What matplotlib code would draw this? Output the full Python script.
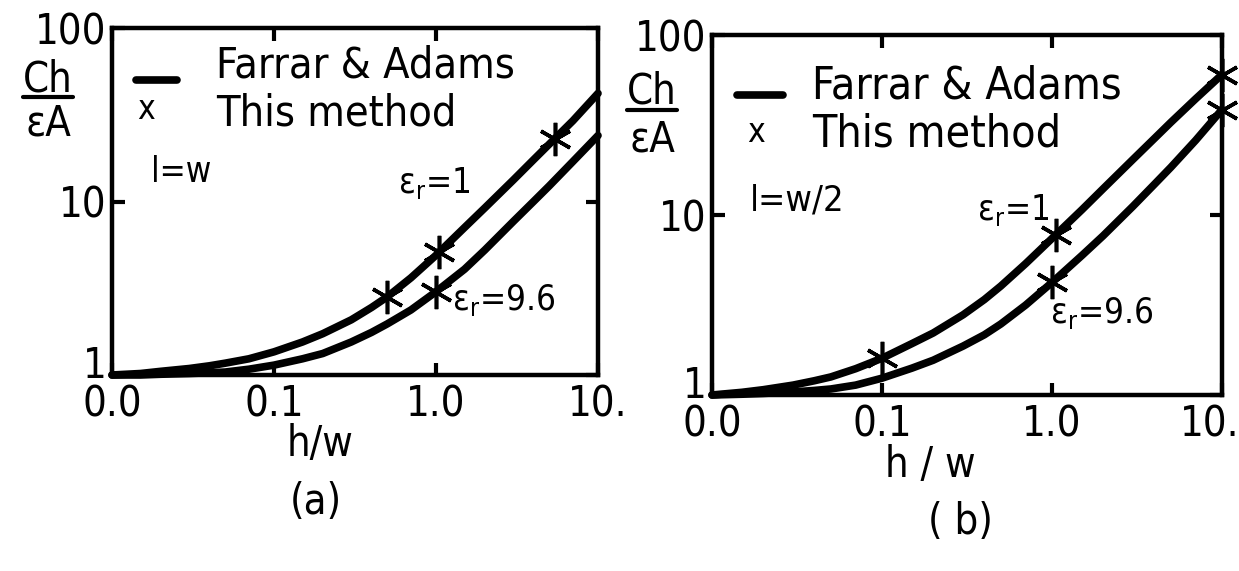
import matplotlib
matplotlib.use("Agg")
import matplotlib.pyplot as plt
from matplotlib.lines import Line2D
from matplotlib.transforms import ScaledTranslation

plt.rcParams["font.family"] = ["DejaVu Sans"]
plt.rcParams["font.stretch"] = "condensed"
plt.rcParams["mathtext.default"] = "regular"

# h/w sample points and normalised capacitance read for each curve
hw = [0.01, 0.015, 0.02, 0.03, 0.04, 0.05, 0.07, 0.1, 0.15, 0.2, 0.3,
      0.4, 0.5, 0.7, 1.0, 1.5, 2.0, 3.0, 4.0, 5.0, 7.0, 10.0]

# (a) l = w
a_er1 = [1.0, 1.02, 1.05, 1.09, 1.13, 1.17, 1.24, 1.36, 1.55, 1.73, 2.08,
         2.45, 2.82, 3.63, 4.9, 7.08, 9.18, 13.3, 17.4, 21.4, 29.2, 42.0]
a_er96 = [1.0, 1.0, 1.01, 1.02, 1.03, 1.04, 1.08, 1.14, 1.24, 1.33, 1.55,
          1.76, 1.97, 2.37, 3.02, 4.07, 5.25, 7.67, 10.0, 12.3, 17.0, 24.0]
a_pts_er1_x = [0.5, 1.05, 5.4]
a_pts_er1_y = [2.82, 5.1, 22.9]
a_pts_er96_x = [1.0]
a_pts_er96_y = [3.02]

# (b) l = w/2
b_er1 = [1.0, 1.035, 1.07, 1.135, 1.2, 1.26, 1.4, 1.6, 1.93, 2.21, 2.79,
         3.39, 4.03, 5.37, 7.41, 10.7, 14.0, 20.4, 26.6, 32.7, 44.2, 60.3]
b_er96 = [1.0, 1.01, 1.02, 1.04, 1.06, 1.08, 1.135, 1.24, 1.41, 1.56, 1.87,
          2.16, 2.48, 3.16, 4.22, 5.96, 7.67, 11.2, 14.8, 18.4, 26.0, 38.5]
b_pts_er1_x = [0.1, 1.05, 10.0]
b_pts_er1_y = [1.6, 7.74, 60.3]
b_pts_er96_x = [1.0, 10.0]
b_pts_er96_y = [4.22, 38.5]

xticks = [0.01, 0.1, 1.0, 10.0]
xticklabels = ["0.0", "0.1", "1.0", "10."]
yticks = [1, 10, 100]
yticklabels = ["1", "10", "100"]
legend_labels = ["Farrar & Adams", "This method"]

FS = 30
LW = 5.5
STAR = (6, 2, 0)

W, H = 1239, 571


def px_axes(left, top, right, bottom):
    return [left / W, 1 - bottom / H, (right - left) / W, (bottom - top) / H]


def ftext(x, y, s, **kw):
    # text placed at pixel position (x from left, y from top)
    kw.setdefault("fontsize", FS)
    kw.setdefault("va", "center")
    return fig.text(x / W, 1 - y / H, s, **kw)


def fline(x0, x1, y, lw):
    fig.add_artist(Line2D([x0 / W, x1 / W], [1 - y / H, 1 - y / H], color="black",
                          lw=lw, solid_capstyle="round", transform=fig.transFigure))


def nudge(label, dx, dy):
    # shift a tick label by (dx, dy) pixels
    label.set_transform(label.get_transform()
                        + ScaledTranslation(dx / 100, dy / 100, fig.dpi_scale_trans))


def setup(ax):
    ax.set_xscale("log")
    ax.set_yscale("log")
    ax.set_xlim(0.01, 10)
    ax.set_ylim(1, 100)
    ax.set_xticks(xticks)
    ax.set_xticklabels(xticklabels)
    ax.set_yticks(yticks)
    ax.set_yticklabels(yticklabels)
    ax.minorticks_off()
    ax.tick_params(direction="in", length=9, width=3, top=True, right=True,
                   labelsize=FS)
    ax.tick_params(axis="x", pad=6)
    ax.tick_params(axis="y", pad=4)
    for s in ax.spines.values():
        s.set_linewidth(3.2)
    nudge(ax.get_yticklabels()[0], 0, 14)


def draw_curves(ax, y1, y2, p1x, p1y, p2x, p2y):
    for y in (y1, y2):
        ax.plot(hw, y, color="black", lw=LW, solid_capstyle="round",
                solid_joinstyle="round", clip_on=False)
    for px, py in ((p1x, p1y), (p2x, p2y)):
        ax.plot(px, py, ls="none", marker=STAR, ms=24, mew=2.6,
                color="black", clip_on=False)


def draw_key(dash_x0, dash_x1, dash_y, x_pos, text_x, row1_y, row2_y, size):
    # hand-lettered key: a dash for the curves, a letter x for the computed points
    fline(dash_x0, dash_x1, dash_y, LW)
    ftext(x_pos[0], x_pos[1], "x", fontsize=FS - 6, ha="center")
    ftext(text_x, row1_y, legend_labels[0], fontsize=size)
    ftext(text_x, row2_y, legend_labels[1], fontsize=size)


fig = plt.figure(figsize=(W / 100, H / 100), dpi=100)

ax_a = fig.add_axes(px_axes(112, 28, 598, 375))
setup(ax_a)
draw_curves(ax_a, a_er1, a_er96, a_pts_er1_x, a_pts_er1_y, a_pts_er96_x, a_pts_er96_y)
draw_key(136, 177, 80, (146, 110), 216, 66, 114, FS + 1)
ax_a.text(0.08, 0.585, "l=w", transform=ax_a.transAxes, fontsize=FS - 5, va="center")
ax_a.text(0.588, 0.553, r"$\epsilon_r$=1", transform=ax_a.transAxes,
          fontsize=FS - 5, va="center")
ax_a.text(0.70, 0.216, r"$\epsilon_r$=9.6", transform=ax_a.transAxes,
          fontsize=FS - 5, va="center")

ax_b = fig.add_axes(px_axes(712, 35, 1222, 395))
setup(ax_b)
draw_curves(ax_b, b_er1, b_er96, b_pts_er1_x, b_pts_er1_y, b_pts_er96_x, b_pts_er96_y)
draw_key(737, 783, 95, (756, 132), 812, 86, 134, FS + 2)
nudge(ax_b.get_xticklabels()[-1], -12, 0)
ax_b.text(0.075, 0.54, "l=w/2", transform=ax_b.transAxes, fontsize=FS - 4, va="center")
ax_b.text(0.52, 0.514, r"$\epsilon_r$=1", transform=ax_b.transAxes,
          fontsize=FS - 5, va="center")
ax_b.text(0.663, 0.228, r"$\epsilon_r$=9.6", transform=ax_b.transAxes,
          fontsize=FS - 5, va="center")

# y-axis quantity written as a fraction Ch / eA
for x0, yc, yl, ye in ((48, 79, 97, 123), (652, 92, 110, 140)):
    ftext(x0, yc, "Ch", ha="center")
    ftext(x0, ye, "εA", ha="center")
    fline(x0 - 25, x0 + 25, yl, 3)

ftext(320, 444, "h/w", ha="center")
ftext(316, 502, "(a)", ha="center")
ftext(930, 465, "h / w", ha="center")
ftext(960, 522, "( b)", ha="center")

fig.savefig("out.png", dpi=100, facecolor="white")
